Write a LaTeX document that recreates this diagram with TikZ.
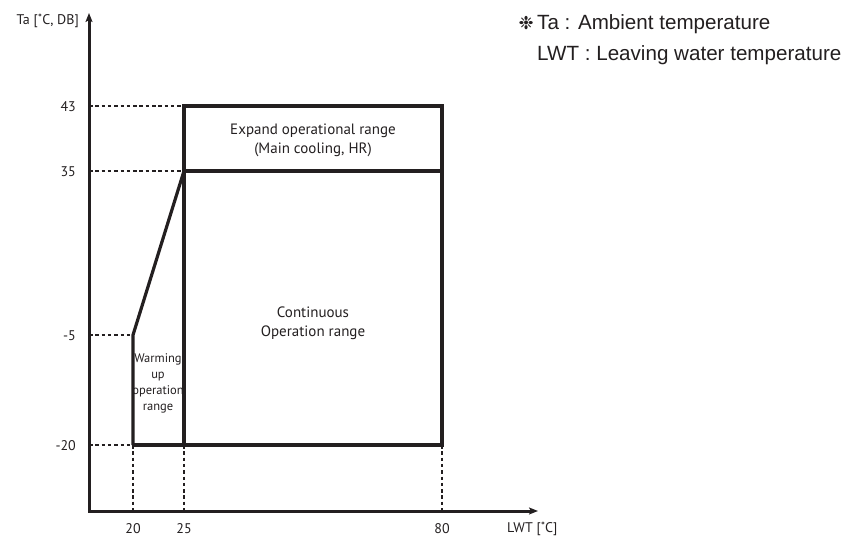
\documentclass[tikz,border=0pt]{standalone}
\usepackage{fontspec}
\setmainfont{PT Sans}
\newfontfamily\notefont{Liberation Sans}
\newfontfamily\symfont{DejaVu Sans}
\usetikzlibrary{arrows.meta}
\definecolor{ink}{HTML}{231F20}

\begin{document}
\begin{tikzpicture}[x=1pt,y=-1pt, ink,
    axis/.style={line width=3pt, line join=miter},
    region/.style={line width=3.2pt, line join=miter},
    guide/.style={line width=1.8pt, dash pattern=on 3.5pt off 2.8pt},
    lbl/.style={font=\fontsize{14}{16}\selectfont, inner sep=0pt},
    txt/.style={font=\fontsize{15}{19}\selectfont, align=center, inner sep=0pt},
    note/.style={font=\notefont\fontsize{20.6}{24}\selectfont, inner sep=0pt, anchor=base west}]
\useasboundingbox (0,0) rectangle (848,537);

% axes
\coordinate (o) at (89,511);
\coordinate (ytop) at (89,13);
\coordinate (xend) at (538,511);
\draw[axis, {Stealth[length=9pt,width=7pt,inset=2pt]}-{Stealth[length=9pt,width=7pt,inset=2pt]}]
    (ytop) -- (o) -- (xend);
\node[lbl, anchor=east] (ylab) at (79,21) {Ta [˚C, DB]};
\node[lbl, anchor=west] (xlab) at (507,529) {LWT [˚C]};

% corners of the ranges
\coordinate (a) at (133,445);
\coordinate (b) at (133,335);
\coordinate (c) at (184,171);
\coordinate (d) at (184,106);
\coordinate (e) at (442,106);
\coordinate (f) at (442,445);
\coordinate (g) at (184,445);
\coordinate (h) at (442,171);

% points on the axes
\coordinate (y43) at (89,106);
\coordinate (y35) at (89,171);
\coordinate (y5) at (89,335);
\coordinate (y20) at (89,445);
\coordinate (x20) at (133,511);
\coordinate (x25) at (184,511);
\coordinate (x80) at (442,511);

\draw[guide] (y43) -- (d);
\draw[guide] (y35) -- (c);
\draw[guide] (y5) -- (b);
\draw[guide] (y20) -- (a);
\draw[guide] (a) -- (x20);
\draw[guide] (g) -- (x25);
\draw[guide] (f) -- (x80);

\draw[region] (a) -- (b) -- (c);
\draw[region] (g) -- (d) -- (e) -- (f) -- (a);
\draw[region] (c) -- (h);

% tick labels
\node[lbl, anchor=east] (t43) at (76,107) {43};
\node[lbl, anchor=east] (t35) at (76,172) {35};
\node[lbl, anchor=east] (t5) at (76,336) {-5};
\node[lbl, anchor=east] (t20) at (76,446) {-20};
\node[lbl] (n20) at (133,529) {20};
\node[lbl] (n25) at (184,529) {25};
\node[lbl] (n80) at (442,529) {80};

% range names
\node[txt] (expand) at (313,140) {Expand operational range\\(Main cooling, HR)};
\node[txt] (cont) at (313,323) {Continuous\\Operation range};
\node[txt, font=\fontsize{12.5}{16}\selectfont] (warm) at (158,383) {Warming\\up\\operation\\range};

% note
\node[anchor=base east, inner sep=0pt, font=\symfont\fontsize{18}{20}\selectfont] (mark) at (534,30) {❉};
\node[note] (ta) at (537,30) {Ta : Ambient temperature};
\node[note] (lwt) at (537,61) {LWT : Leaving water temperature};
\end{tikzpicture}
\end{document}
